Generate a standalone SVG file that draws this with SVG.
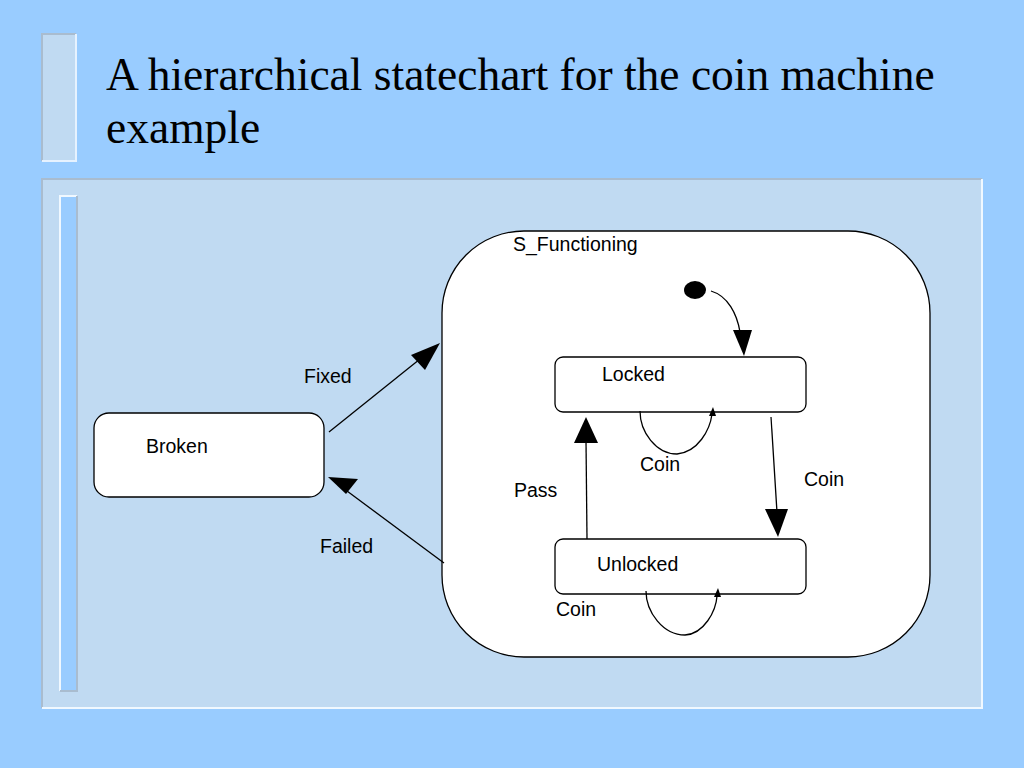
<svg xmlns="http://www.w3.org/2000/svg" width="1024" height="768" viewBox="0 0 1024 768">
<style>
.st{fill:#fff;stroke:#000;stroke-width:1.3}
.ln{fill:none;stroke:#000;stroke-width:1.3}
.lbl{font-family:"Liberation Sans",Arial,sans-serif;font-size:19.5px;fill:#000}
.ttl{font-family:"Liberation Serif","Times New Roman",serif;font-size:45.5px;fill:#000}
</style>
<rect width="1024" height="768" fill="#99CCFF"/>
<g id="decor">
<rect x="42" y="34" width="34" height="127" fill="#C0DAF2"/>
<path d="M42 161V34H76" fill="none" stroke="#A9BCCF" stroke-width="2"/>
<path d="M76 34V161H42" fill="none" stroke="#E6F2FF" stroke-width="2"/>
<rect x="42" y="179" width="940" height="529" fill="#C0DAF2"/>
<path d="M42 708V179H982" fill="none" stroke="#A9BCCF" stroke-width="2"/>
<path d="M982 179V708H42" fill="none" stroke="#F0F8FF" stroke-width="2"/>
<rect x="60" y="196" width="17" height="495" fill="#99CCFF"/>
<path d="M60 691V196H77" fill="none" stroke="#F0F8FF" stroke-width="2"/>
<path d="M77 196V691H60" fill="none" stroke="#A9BCCF" stroke-width="2"/>
</g>
<g id="title">
<text class="ttl" x="106" y="90">A hierarchical statechart for the coin machine</text>
<text class="ttl" x="106" y="143">example</text>
</g>
<g id="S_Functioning">
<rect class="st" x="442" y="231" width="488" height="426" rx="82" ry="82"/>
<text class="lbl" x="513" y="251">S_Functioning</text>
</g>
<g id="initial">
<ellipse cx="695" cy="290" rx="11" ry="9" fill="#000"/>
</g>
<g id="Locked">
<rect class="st" x="555" y="357" width="251" height="55" rx="8"/>
<text class="lbl" x="602" y="381">Locked</text>
</g>
<g id="Unlocked">
<rect class="st" x="555" y="539" width="251" height="55" rx="8"/>
<text class="lbl" x="597" y="571">Unlocked</text>
</g>
<g id="Broken">
<rect class="st" x="94" y="413" width="230" height="84" rx="15"/>
<text class="lbl" x="146" y="453">Broken</text>
</g>
<g id="connectors">
<path class="ln" d="M711 291C728 296 737 314 740 332"/>
<polygon points="733,330 752,330 744,356"/>
<path class="ln" d="M640 411C640 432 656 454 677 454C698 452 710 430 712 414"/>
<polygon points="709,416 716,416 713,407"/>
<line class="ln" x1="771" y1="417" x2="777" y2="512"/>
<polygon points="765,509 788,509 778,537"/>
<line class="ln" x1="587" y1="539" x2="586" y2="440"/>
<polygon points="574,443 598,443 586,417"/>
<path class="ln" d="M646 591C646 612 663 635 685 635C704 634 716 611 717 596"/>
<polygon points="714,597 721,597 718,588"/>
<line class="ln" x1="329" y1="432" x2="420" y2="359"/>
<polygon points="440,343 411,355 425,370"/>
<line class="ln" x1="444" y1="563" x2="347" y2="491"/>
<polygon points="328,477 346,494 358,479"/>
</g>
<g id="labels">
<text class="lbl" x="640" y="471">Coin</text>
<text class="lbl" x="804" y="486">Coin</text>
<text class="lbl" x="514" y="497">Pass</text>
<text class="lbl" x="556" y="616">Coin</text>
<text class="lbl" x="304" y="383">Fixed</text>
<text class="lbl" x="320" y="553">Failed</text>
</g>
</svg>
